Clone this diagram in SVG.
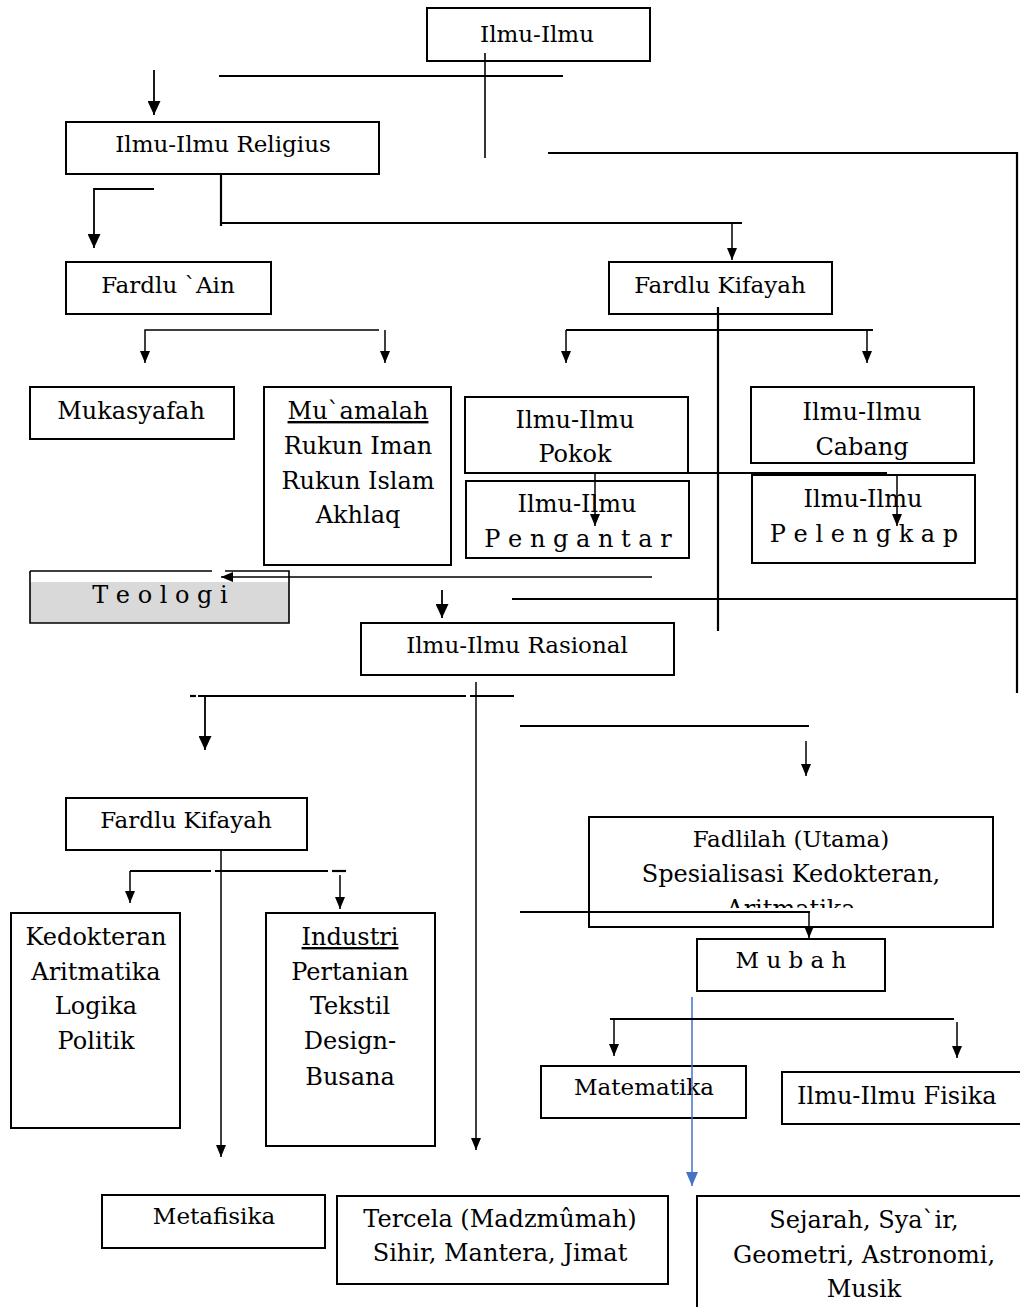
<svg xmlns="http://www.w3.org/2000/svg" width="1020" height="1307" viewBox="0 0 1020 1307">
  <defs>
    <style>
      .box { fill: #fff; stroke: #000; stroke-width: 2; }
      .t { font-family: "DejaVu Serif", "Liberation Serif", serif; font-size: 24px; fill: #000; text-anchor: middle; }
      .s { font-size: 23px; }
      .start { text-anchor: start; }
      .ln { stroke: #000; stroke-width: 2.2; fill: none; }
      .thin { stroke: #000; stroke-width: 1.6; fill: none; }
      .ar { stroke: #000; stroke-width: 1.5; fill: none; marker-end: url(#ah); }
      .arL { stroke: #000; stroke-width: 1.8; fill: none; marker-end: url(#ahL); }
      .arB { stroke: #4472c4; stroke-width: 1.5; fill: none; marker-end: url(#ahB); }
    </style>
    <marker id="ah" markerUnits="userSpaceOnUse" viewBox="0 0 12 10" markerWidth="12" markerHeight="10" refX="12" refY="5" orient="auto">
      <path d="M0,0 L12,5 L0,10 z" fill="#000"/>
    </marker>
    <marker id="ahL" markerUnits="userSpaceOnUse" viewBox="0 0 14 13" markerWidth="14" markerHeight="13" refX="14" refY="6.5" orient="auto">
      <path d="M0,0 L14,6.5 L0,13 z" fill="#000"/>
    </marker>
    <marker id="ahB" markerUnits="userSpaceOnUse" viewBox="0 0 14 12" markerWidth="14" markerHeight="12" refX="14" refY="6" orient="auto">
      <path d="M0,0 L14,6 L0,12 z" fill="#4472c4"/>
    </marker>
    <clipPath id="clipFadlilah">
      <rect x="590" y="818" width="402" height="90"/>
    </clipPath>
  </defs>

  <rect width="1020" height="1307" fill="#fff"/>

  <g id="n-ilmu">
    <rect class="box" x="427" y="8" width="223" height="53"/>
    <text class="t s" x="537" y="42">Ilmu-Ilmu</text>
  </g>
  <g id="n-religius">
    <rect class="box" x="66" y="122" width="313" height="52"/>
    <text class="t s" x="223" y="152">Ilmu-Ilmu Religius</text>
  </g>
  <g id="n-fardlu-ain">
    <rect class="box" x="66" y="262" width="205" height="52"/>
    <text class="t s" x="168" y="293">Fardlu `Ain</text>
  </g>
  <g id="n-fardlu-kifayah-1">
    <rect class="box" x="609" y="262" width="223" height="52"/>
    <text class="t s" x="720" y="293">Fardlu Kifayah</text>
  </g>
  <g id="n-mukasyafah">
    <rect class="box" x="30" y="387" width="204" height="52"/>
    <text class="t" x="131" y="419">Mukasyafah</text>
  </g>
  <g id="n-muamalah">
    <rect class="box" x="264" y="387" width="187" height="178"/>
    <text class="t" x="358" y="419" text-decoration="underline">Mu`amalah</text>
    <text class="t" x="358" y="454">Rukun Iman</text>
    <text class="t" x="358" y="489">Rukun Islam</text>
    <text class="t" x="358" y="523">Akhlaq</text>
  </g>
  <g id="n-pokok">
    <rect class="box" x="465" y="397" width="223" height="76"/>
    <text class="t" x="575" y="428">Ilmu-Ilmu</text>
    <text class="t" x="575" y="462">Pokok</text>
  </g>
  <g id="n-cabang">
    <rect class="box" x="751" y="387" width="223" height="76"/>
    <text class="t" x="862" y="420">Ilmu-Ilmu</text>
    <text class="t" x="862" y="455">Cabang</text>
  </g>
  <g id="n-pengantar">
    <rect class="box" x="466" y="481" width="223" height="77"/>
    <text class="t" x="577" y="512">Ilmu-Ilmu</text>
    <text class="t" x="578" y="547">P e n g a n t a r</text>
  </g>
  <g id="n-pelengkap">
    <rect class="box" x="752" y="475" width="223" height="88"/>
    <text class="t" x="863" y="507">Ilmu-Ilmu</text>
    <text class="t" x="864" y="542">P e l e n g k a p</text>
  </g>
  <g id="n-teologi">
    <rect x="30" y="571" width="259" height="52" fill="#fff" stroke="none"/>
    <rect x="30" y="582" width="259" height="41" fill="#d9d9d9"/>
    <path d="M30,571 H212 M225,571 H289 V623 H30 V571" class="thin" stroke-width="2"/>
    <text class="t" x="160" y="603">T e o l o g i</text>
  </g>
  <g id="n-rasional">
    <rect class="box" x="361" y="623" width="313" height="52"/>
    <text class="t s" x="517" y="653">Ilmu-Ilmu Rasional</text>
  </g>
  <g id="n-fardlu-kifayah-2">
    <rect class="box" x="66" y="798" width="241" height="52"/>
    <text class="t s" x="186" y="828">Fardlu Kifayah</text>
  </g>
  <g id="n-kedokteran">
    <rect class="box" x="11" y="913" width="169" height="215"/>
    <text class="t" x="96" y="945">Kedokteran</text>
    <text class="t" x="96" y="980">Aritmatika</text>
    <text class="t" x="96" y="1014">Logika</text>
    <text class="t" x="96" y="1049">Politik</text>
  </g>
  <g id="n-industri">
    <rect class="box" x="266" y="913" width="169" height="233"/>
    <text class="t" x="350" y="945" text-decoration="underline">Industri</text>
    <text class="t" x="350" y="980">Pertanian</text>
    <text class="t" x="350" y="1014">Tekstil</text>
    <text class="t" x="350" y="1049">Design-</text>
    <text class="t" x="350" y="1085">Busana</text>
  </g>
  <g id="n-fadlilah">
    <rect class="box" x="589" y="817" width="404" height="110"/>
    <g clip-path="url(#clipFadlilah)">
      <text class="t s" x="791" y="847">Fadlilah (Utama)</text>
      <text class="t" x="791" y="882">Spesialisasi Kedokteran,</text>
      <text class="t" x="791" y="917">Aritmatika</text>
    </g>
  </g>
  <g id="n-mubah">
    <rect class="box" x="697" y="939" width="188" height="52"/>
    <text class="t s" x="791" y="968">M u b a h</text>
  </g>
  <g id="n-matematika">
    <rect class="box" x="541" y="1066" width="205" height="52"/>
    <text class="t s" x="644" y="1095">Matematika</text>
  </g>
  <g id="n-fisika">
    <rect class="box" x="782" y="1072" width="250" height="52"/>
    <text class="t start" x="797" y="1104">Ilmu-Ilmu Fisika</text>
  </g>
  <g id="n-metafisika">
    <rect class="box" x="102" y="1195" width="223" height="53"/>
    <text class="t s" x="214" y="1224">Metafisika</text>
  </g>
  <g id="n-tercela">
    <rect class="box" x="337" y="1196" width="331" height="88"/>
    <text class="t" x="500" y="1227">Tercela (Madzmûmah)</text>
    <text class="t" x="500" y="1261">Sihir, Mantera, Jimat</text>
  </g>
  <g id="n-sejarah">
    <rect class="box" x="697" y="1196" width="340" height="130"/>
    <text class="t" x="864" y="1228">Sejarah, Sya`ir,</text>
    <text class="t" x="864" y="1263">Geometri, Astronomi,</text>
    <text class="t" x="864" y="1297">Musik</text>
  </g>

  <g id="connectors">
    <!-- top branch -->
    <line class="ln" x1="219" y1="76" x2="563" y2="76"/>
    <line class="thin" x1="485" y1="53" x2="485" y2="158"/>
    <line class="arL" x1="154" y1="70" x2="154" y2="115"/>
    <!-- religius to fardlu -->
    <polyline class="ln" points="221,174 221,226"/>
    <line class="ln" x1="220" y1="223" x2="742" y2="223"/>
    <line class="ar" x1="732" y1="224" x2="732" y2="260"/>
    <polyline class="arL" points="154,189 94,189 94,248"/>
    <!-- long right frame -->
    <polyline class="ln" points="548,153 1017,153 1017,693"/>
    <line class="ln" x1="718" y1="307" x2="718" y2="631"/>
    <!-- fardlu ain children -->
    <polyline class="ar" points="379,330 145,330 145,363"/>
    <line class="ar" x1="385" y1="330" x2="385" y2="363"/>
    <!-- fardlu kifayah children -->
    <line class="ln" x1="566" y1="330" x2="873" y2="330"/>
    <line class="ar" x1="566" y1="330" x2="566" y2="363"/>
    <line class="ar" x1="867" y1="330" x2="867" y2="363"/>
    <!-- pokok / cabang -->
    <line class="ln" x1="580" y1="473" x2="887" y2="473"/>
    <line class="ar" x1="595" y1="474" x2="595" y2="526"/>
    <line class="ar" x1="897" y1="474" x2="897" y2="526"/>
    <!-- teologi -->
    <line class="ar" x1="652" y1="577" x2="221" y2="577"/>
    <line class="arL" x1="442" y1="590" x2="442" y2="618"/>
    <line class="ln" x1="512" y1="599" x2="1017" y2="599"/>
    <!-- rasional -->
    <line class="ar" x1="476" y1="682" x2="476" y2="1150"/>
    <line class="ln" x1="190" y1="696" x2="196" y2="696"/>
    <line class="ln" x1="198" y1="696" x2="466" y2="696"/>
    <line class="ln" x1="470" y1="696" x2="514" y2="696"/>
    <line class="arL" x1="205" y1="697" x2="205" y2="750"/>
    <line class="ln" x1="520" y1="726" x2="809" y2="726"/>
    <line class="ar" x1="806" y1="741" x2="806" y2="776"/>
    <!-- lower fardlu kifayah -->
    <line class="ar" x1="221" y1="851" x2="221" y2="1157"/>
    <line class="ln" x1="130" y1="871" x2="211" y2="871"/>
    <line class="ln" x1="215" y1="871" x2="328" y2="871"/>
    <line class="ln" x1="332" y1="871" x2="346" y2="871"/>
    <line class="ar" x1="130" y1="871" x2="130" y2="903"/>
    <line class="ar" x1="340" y1="875" x2="340" y2="909"/>
    <!-- fadlilah / mubah -->
    <line class="ln" x1="520" y1="912" x2="810" y2="912"/>
    <line class="ar" x1="809" y1="912" x2="809" y2="938"/>
    <line class="arB" x1="692" y1="997" x2="692" y2="1186"/>
    <line class="ln" stroke-width="3" x1="610" y1="1019" x2="954" y2="1019"/>
    <line class="ar" x1="614" y1="1019" x2="614" y2="1056"/>
    <line class="ar" x1="957" y1="1022" x2="957" y2="1058"/>
  </g>
</svg>
